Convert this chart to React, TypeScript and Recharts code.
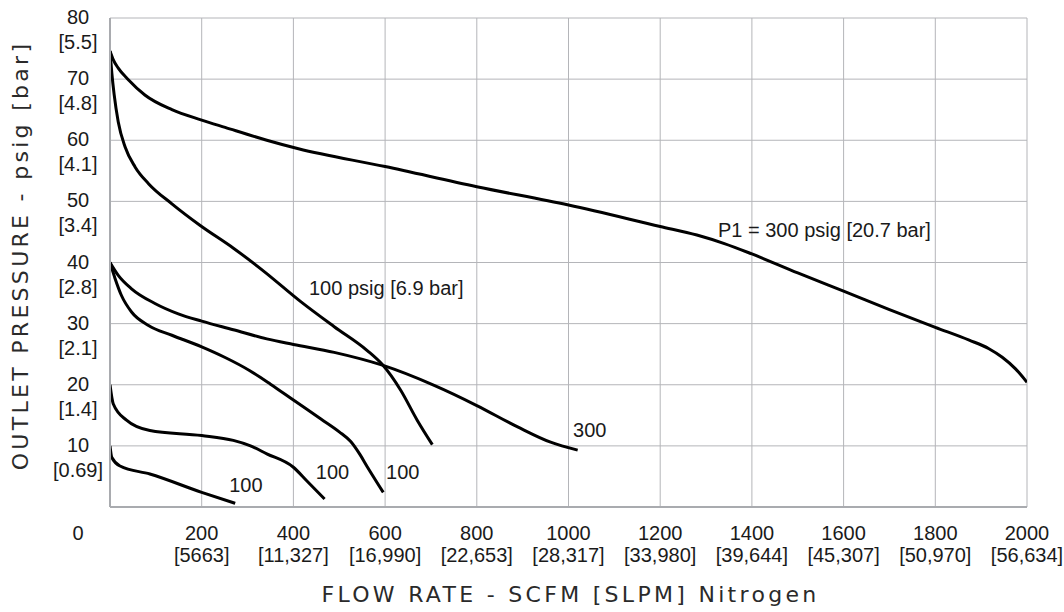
import React from "react";
import { LineChart, Line, XAxis, YAxis, CartesianGrid, ReferenceDot } from "recharts";

// Flow (SCFM) ticks and their SLPM equivalents
const flowTicks = [0, 200, 400, 600, 800, 1000, 1200, 1400, 1600, 1800, 2000];
const flowSlpm = ["", "[5663]", "[11,327]", "[16,990]", "[22,653]", "[28,317]", "[33,980]", "[39,644]", "[45,307]", "[50,970]", "[56,634]"];
// Pressure (psig) ticks and bar equivalents
const pressureTicks = [0, 10, 20, 30, 40, 50, 60, 70, 80];
const pressureBar = ["", "[0.69]", "[1.4]", "[2.1]", "[2.8]", "[3.4]", "[4.1]", "[4.8]", "[5.5]"];

// Curve: P1 = 300 psig, set 75 psig
const c300hiFlow = [0, 7, 18, 40, 76, 135, 200, 251, 342, 411, 600, 800, 1000, 1200, 1280, 1340, 1400, 1500, 1600, 1700, 1800, 1874, 1917, 1946, 1975, 2000];
const c300hiPress = [74.6, 73.2, 71.8, 69.9, 67.4, 65.0, 63.3, 62.1, 60.0, 58.6, 55.7, 52.4, 49.4, 45.9, 44.5, 43.1, 41.4, 38.3, 35.3, 32.3, 29.4, 27.3, 25.9, 24.5, 22.6, 20.4];
// Curve: P1 = 100 psig, set 75 psig
const c100hiFlow = [0, 4, 9, 18, 33, 55, 84, 135, 196, 270, 335, 416, 489, 561, 594, 634, 670, 703];
const c100hiPress = [74.6, 71.0, 67.5, 63.0, 58.9, 55.6, 52.9, 49.6, 46.1, 42.3, 38.6, 33.6, 29.5, 25.6, 23.3, 19.1, 14.2, 10.2];
// Curve: P1 = 300 psig, set 40 psig
const c300midFlow = [0, 18, 47, 98, 149, 200, 269, 342, 400, 489, 594, 707, 800, 889, 961, 1020];
const c300midPress = [40, 37.9, 35.7, 33.3, 31.6, 30.4, 29.0, 27.5, 26.6, 25.3, 23.2, 19.9, 16.6, 13.1, 10.6, 9.3];
// Curve: P1 = 100 psig, set 40 psig
const c100midFlow = [0, 11, 25, 47, 84, 135, 200, 250, 305, 350, 400, 460, 500, 525, 545, 561, 596];
const c100midPress = [40, 37.4, 34.6, 31.9, 29.7, 28.1, 26.2, 24.5, 22.3, 20.1, 17.5, 14.4, 12.3, 10.7, 8.6, 6.6, 2.4];
// Curve: P1 = 100 psig, set 20 psig
const c100lowFlow = [0, 7, 36, 87, 200, 269, 305, 342, 400, 429, 468];
const c100lowPress = [20, 16.9, 14.2, 12.5, 11.7, 10.9, 10.05, 8.7, 6.5, 4.3, 1.3];
// Curve: P1 = 100 psig, set 10 psig
const c100minFlow = [0, 4, 22, 87, 200, 273];
const c100minPress = [10, 8.1, 6.7, 5.4, 2.4, 0.6];

// Curve labels: text, flow, pressure of label anchor (left edge, vertical centre)
const labelTexts = ["P1 = 300 psig [20.7 bar]", "100 psig [6.9 bar]", "300", "100", "100", "100"];
const labelFlow = [1326, 434, 1010, 260, 449, 602];
const labelPress = [45.3, 35.8, 12.6, 3.6, 5.8, 5.8];

const zip = (xs: number[], ys: number[]) => xs.map((x, i) => ({ x, y: ys[i] }));
const curves = [
  zip(c300hiFlow, c300hiPress),
  zip(c100hiFlow, c100hiPress),
  zip(c300midFlow, c300midPress),
  zip(c100midFlow, c100midPress),
  zip(c100lowFlow, c100lowPress),
  zip(c100minFlow, c100minPress),
];

const TICK_FONT = "'Liberation Sans', Arial, sans-serif";
const TITLE_FONT = "'DejaVu Sans', Verdana, sans-serif";
const GRID = "#b4b5b9";
const TXT = "#1a1a1a";

const XTick = (props: any) => {
  const { x, y, payload } = props;
  const i = flowTicks.indexOf(payload.value);
  if (payload.value === 0) {
    return (
      <text x={x - 32} y={y + 33} textAnchor="middle" fontSize={20} fontFamily={TICK_FONT} fill={TXT}>0</text>
    );
  }
  return (
    <text textAnchor="middle" fontSize={20} fontFamily={TICK_FONT} fill={TXT}>
      <tspan x={x} y={y + 33}>{String(payload.value)}</tspan>
      <tspan x={x} y={y + 55}>{flowSlpm[i]}</tspan>
    </text>
  );
};

const YTick = (props: any) => {
  const { x, y, payload } = props;
  if (payload.value === 0) return null;
  const i = pressureTicks.indexOf(payload.value);
  return (
    <text textAnchor="middle" fontSize={20} fontFamily={TICK_FONT} fill={TXT}>
      <tspan x={x - 32} y={y + 6}>{String(payload.value)}</tspan>
      <tspan x={x - 32} y={y + 31}>{pressureBar[i]}</tspan>
    </text>
  );
};

const XTitle = (props: any) => {
  const vb = props.viewBox;
  return (
    <text x={vb.x + vb.width / 2 + 2} y={vb.y + 95} textAnchor="middle" fontSize={22} letterSpacing={3.3}
      fontFamily={TITLE_FONT} fill="#2a2a2a">FLOW RATE - SCFM [SLPM] Nitrogen</text>
  );
};

const YTitle = (props: any) => {
  const vb = props.viewBox;
  const cx = vb.x + 28;
  const cy = vb.y + vb.height / 2 - 7;
  return (
    <text x={cx} y={cy} transform={`rotate(-90, ${cx}, ${cy})`} textAnchor="middle" fontSize={22}
      letterSpacing={3.3} fontFamily={TITLE_FONT} fill="#2a2a2a">OUTLET PRESSURE - psig [bar]</text>
  );
};

export default function App() {
  return (
    <div style={{ position: "absolute", left: 0, top: 0, width: 1064, height: 612, background: "#fff" }}>
      <LineChart width={1064} height={612} margin={{ top: 18, right: 37, bottom: 0, left: 0 }}>
        <CartesianGrid stroke={GRID} strokeWidth={1} />
        <XAxis
          type="number"
          dataKey="x"
          domain={[0, 2000]}
          ticks={flowTicks}
          interval={0}
          height={105}
          tickSize={0}
          tickMargin={0}
          tickLine={false}
          axisLine={{ stroke: "#a9abaf", strokeWidth: 2 }}
          tick={<XTick />}
          label={<XTitle />}
          allowDataOverflow
        />
        <YAxis
          type="number"
          domain={[0, 80]}
          ticks={pressureTicks}
          interval={0}
          width={110}
          tickSize={0}
          tickMargin={0}
          tickLine={false}
          axisLine={{ stroke: "#a9abaf", strokeWidth: 2 }}
          tick={<YTick />}
          label={<YTitle />}
          allowDataOverflow
        />
        {curves.map((d, i) => (
          <Line
            key={i}
            data={d}
            dataKey="y"
            type="monotone"
            stroke="#000"
            strokeWidth={3}
            dot={false}
            activeDot={false}
            isAnimationActive={false}
          />
        ))}
        {labelTexts.map((t, i) => (
          <ReferenceDot
            key={"l" + i}
            x={labelFlow[i]}
            y={labelPress[i]}
            r={0}
            ifOverflow="visible"
            shape={(p: any) => (
              <text x={p.cx} y={p.cy} dy={7} textAnchor="start" fontSize={20} fontFamily={TICK_FONT} fill={TXT}>{t}</text>
            )}
          />
        ))}
      </LineChart>
    </div>
  );
}
